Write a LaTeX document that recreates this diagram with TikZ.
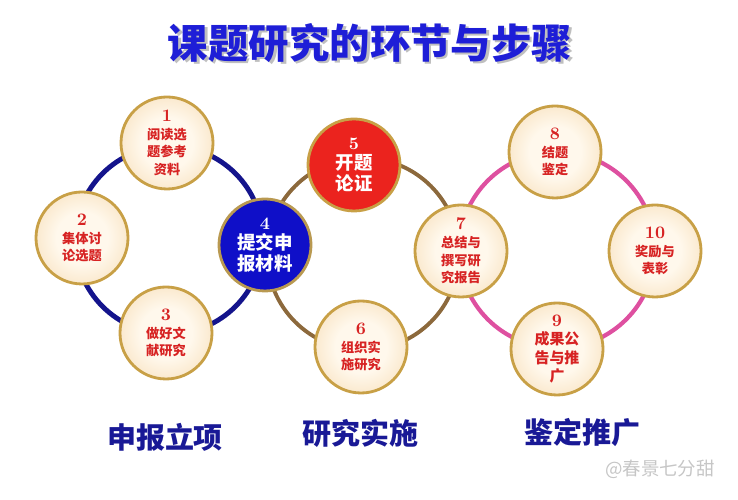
\documentclass[tikz,border=0pt]{standalone}
\usepackage{fontspec}
\newfontfamily\cjk{Noto Sans CJK SC}
\usetikzlibrary{positioning, backgrounds}
\definecolor{titleblue}{RGB}{30, 30, 215}
\definecolor{labelblue}{RGB}{25, 25, 150}
\definecolor{ringblue}{RGB}{20, 20, 140}
\definecolor{ringbrown}{RGB}{140, 105, 60}
\definecolor{ringpink}{RGB}{222, 80, 160}
\definecolor{stepcream}{RGB}{255, 248, 236}
\definecolor{steptan}{RGB}{240, 200, 140}
\definecolor{steprim}{RGB}{200, 160, 70}
\definecolor{stepred}{RGB}{215, 35, 35}
\definecolor{keyblue}{RGB}{15, 15, 200}
\definecolor{keyred}{RGB}{235, 35, 30}
\pgfdeclareradialshading{stepshade}{\pgfpoint{0bp}{0bp}}{color(0bp)=(stepcream); color(14bp)=(stepcream); color(50bp)=(steptan)}
\newcommand{\stepno}[1]{{\rmfamily\bfseries\fontsize{10}{10}\selectfont #1}}
\tikzset{
  stepnode/.style={circle, draw=steprim, line width=1.6pt, shading=stepshade,
                   minimum size=1.84cm, inner sep=0pt, align=center, text=stepred,
                   font=\cjk\bfseries\fontsize{7.5}{10}\selectfont},
  keynode/.style 2 args={circle, fill=#1, draw=#2, line width=1.6pt,
                   minimum size=1.84cm, inner sep=0pt, align=center, text=white,
                   font=\cjk\bfseries\fontsize{10.5}{11.5}\selectfont},
  ring/.style={circle, draw=#1, inner sep=0pt, outer sep=0pt},
  phase/.style={font=\cjk\bfseries\fontsize{16.5}{18}\selectfont, text=labelblue},
}
\begin{document}
\begin{tikzpicture}
  \useasboundingbox (0,0) rectangle (14.76,10);

  % title with shadow
  \node[font=\cjk\bfseries\fontsize{23}{26}\selectfont, text=gray!50] (titleshadow) at (7.45,9.09) {课题研究的环节与步骤};
  \node[font=\cjk\bfseries\fontsize{23}{26}\selectfont, text=titleblue] (title) at (7.4,9.14) {课题研究的环节与步骤};

  % rings
  \node[ring=ringblue, line width=2.8pt, minimum size=3.76cm] (applyring) at (3.38,5.2) {};
  \node[ring=ringbrown, line width=2.2pt, minimum size=3.84cm] (carryring) at (7.26,4.92) {};
  \node[ring=ringpink, line width=2.4pt, minimum size=3.92cm] (promotering) at (11.14,5.0) {};

  % steps
  \node[stepnode] (s1) at (3.34,7.14) {\stepno{1}\\阅读选\\题参考\\资料};
  \node[stepnode] (s2) at (1.64,5.24) {\stepno{2}\\集体讨\\论选题};
  \node[stepnode] (s3) at (3.32,3.34) {\stepno{3}\\做好文\\献研究};
  \node[keynode={keyblue}{steprim!80!gray}] (s4) at (5.3,5.1) {\stepno{4}\\提交申\\报材料};
  \node[keynode={keyred}{steprim}] (s5) at (7.08,6.7) {\stepno{5}\\开题\\论证};
  \node[stepnode] (s6) at (7.22,3.06) {\stepno{6}\\组织实\\施研究};
  \node[stepnode] (s7) at (9.22,4.98) {\stepno{7}\\总结与\\撰写研\\究报告};
  \node[stepnode] (s8) at (11.1,6.96) {\stepno{8}\\结题\\鉴定};
  \node[stepnode, font=\cjk\bfseries\fontsize{8.5}{10.4}\selectfont] (s9) at (11.14,3.02) {\stepno{9}\\成果公\\告与推\\广};
  \node[stepnode] (s10) at (13.1,4.98) {\stepno{10}\\奖励与\\表彰};

  % phases
  \node[phase] (apply) at (3.3,1.26) {申报立项};
  \node[phase] (carry) at (7.2,1.34) {研究实施};
  \node[phase] (promote) at (11.64,1.34) {鉴定推广};

  \node[font=\cjk\fontsize{10.5}{12}\selectfont, text=gray!45] (mark) at (13.2,0.62) {@春景七分甜};
\end{tikzpicture}
\end{document}
